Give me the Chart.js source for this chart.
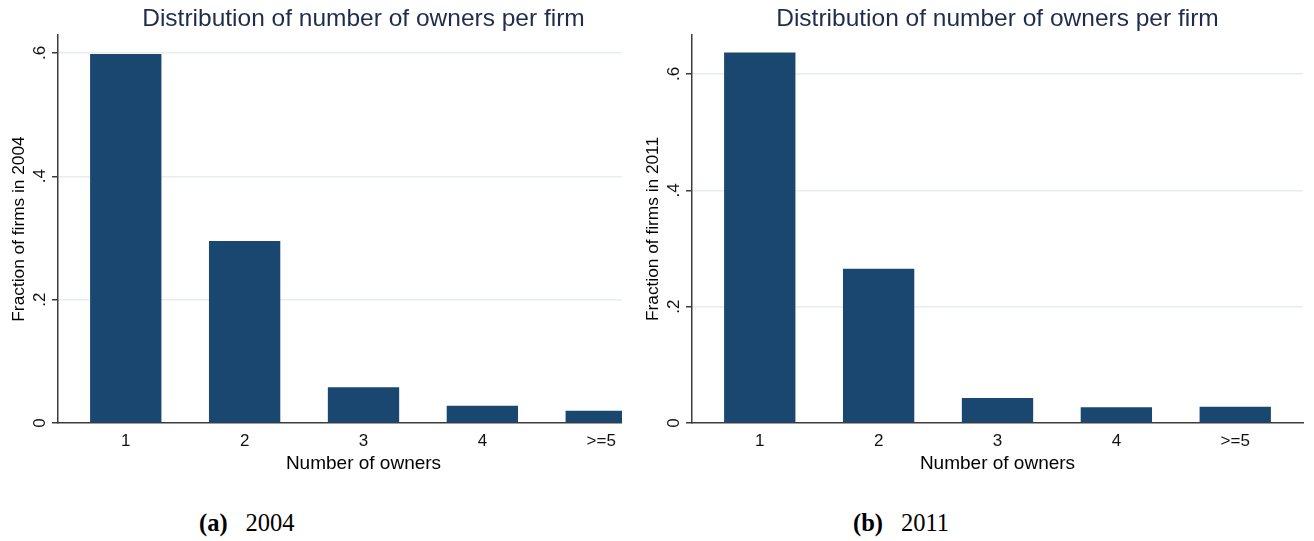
<!DOCTYPE html>
<html>
<head>
<meta charset="utf-8">
<title>Owners per firm</title>
<script src="https://cdn.jsdelivr.net/npm/chart.js@4.4.1/dist/chart.umd.min.js"></script>
<style>
  html, body { margin:0 ; padding:0 ; background:#fff ; overflow:hidden ; }
  body { width:1314px ; height:541px ; position:relative ; }
  .panel { position:absolute ; top:0 ; height:480px ; overflow:hidden ; }
  #panel_a { left:0 ; width:622px ; }
  #panel_b { left:634px ; width:680px ; }
  .panel canvas { position:absolute ; left:0 ; top:0 ; width:680px ; height:480px ; }
  .caption { position:absolute ; top:511px ; font-family:'Liberation Serif', 'Times New Roman', serif ;
             font-size:24.5px ; line-height:24px ; color:#000 ; white-space:nowrap ; }
  .caption span { margin-left:18px ; }
</style>
</head>
<body>
<div class="panel" id="panel_a"><canvas id="chart_2004" width="680" height="480"></canvas></div>
<div class="panel" id="panel_b"><canvas id="chart_2011" width="680" height="480"></canvas></div>
<div class="caption" style="left:199px"><b>(a)</b><span>2004</span></div>
<div class="caption" style="left:853px"><b>(b)</b><span>2011</span></div>

<script>
// number of owners: bar positions and their labels
const ownerPos = [1, 2, 3, 4, 5] ;
const ownerLabels = ['1', '2', '3', '4', '>=5'] ;

// fraction of firms per owner count
const share2004 = [0.598, 0.295, 0.058, 0.028, 0.020] ;
const share2011 = [0.637, 0.265, 0.043, 0.027, 0.028] ;

const yTicks = [0, 0.2, 0.4, 0.6] ;
const yTickLabels = ['0', '.2', '.4', '.6'] ;

const fontFamily = "'Liberation Sans', Arial, sans-serif" ;
const barColor = '#1a476f' ;
const axisColor = '#3c3c3c' ;
const gridColor = '#e5edf0' ;

function makeChart (canvasId, values, yMax, yTitle) {
    let ctx = document.getElementById(canvasId).getContext('2d') ;
    let points = ownerPos.map((x, i) => {
        return { x: x, y: values[i] } ;
    }) ;

    return new Chart(ctx, {
        type: 'bar',
        data: {
            datasets: [{
                data: points,
                backgroundColor: barColor,
                borderWidth: 0,
                barPercentage: 0.6,
                categoryPercentage: 1.0,
            }]
        },
        options: {
            responsive: false,
            animation: false,
            events: [],
            layout: { padding: { left: 0, right: 11, top: 0, bottom: 0 } },
            plugins: {
                legend: { display: false },
                tooltip: { enabled: false },
                title: {
                    display: true,
                    text: 'Distribution of number of owners per firm',
                    fullSize: false,
                    color: '#1f2c4c',
                    font: { family: fontFamily, size: 24.5, weight: 'normal' },
                    padding: { top: 5, bottom: 0.6 },
                }
            },
            scales: {
                x: {
                    type: 'linear',
                    min: 0.43,
                    max: 5.57,
                    offset: false,
                    z: 1,
                    afterBuildTicks: (s) => { s.ticks = ownerPos.map(v => ({ value: v })) ; },
                    afterFit: (s) => { s.height = 57 ; },
                    grid: { display: false, drawTicks: false },
                    border: { display: true, color: axisColor, width: 1.5 },
                    ticks: {
                        color: '#111',
                        font: { family: fontFamily, size: 17 },
                        padding: 8,
                        maxRotation: 0,
                        autoSkip: false,
                        callback: (v, i) => ownerLabels[i],
                    },
                    title: {
                        display: true,
                        text: 'Number of owners',
                        color: '#000',
                        font: { family: fontFamily, size: 19 },
                        padding: { top: 0, bottom: 5 },
                    }
                },
                y: {
                    min: 0,
                    max: yMax,
                    afterBuildTicks: (s) => { s.ticks = yTicks.map(v => ({ value: v })) ; },
                    afterFit: (s) => { s.width = 58 ; },
                    grid: {
                        // zero line is covered by the x axis
                        color: (c) => (c.tick && c.tick.value === 0) ? 'rgba(0,0,0,0)' : gridColor,
                        lineWidth: 1.5,
                        tickColor: axisColor,
                        tickLength: 6,
                        tickWidth: 1.5,
                    },
                    border: { display: true, color: axisColor, width: 1.5 },
                    ticks: {
                        color: '#111',
                        font: { family: fontFamily, size: 17 },
                        padding: 5,
                        minRotation: 90,
                        maxRotation: 90,
                        crossAlign: 'center',
                        autoSkip: false,
                        callback: (v, i) => yTickLabels[i],
                    },
                    title: {
                        display: true,
                        text: yTitle,
                        color: '#000',
                        font: { family: fontFamily, size: 17.3 },
                        padding: { top: 9, bottom: 0 },
                    }
                }
            }
        }
    }) ;
}

makeChart('chart_2004', share2004, 0.629, 'Fraction of firms in 2004') ;
makeChart('chart_2011', share2011, 0.667, 'Fraction of firms in 2011') ;
</script>
</body>
</html>
